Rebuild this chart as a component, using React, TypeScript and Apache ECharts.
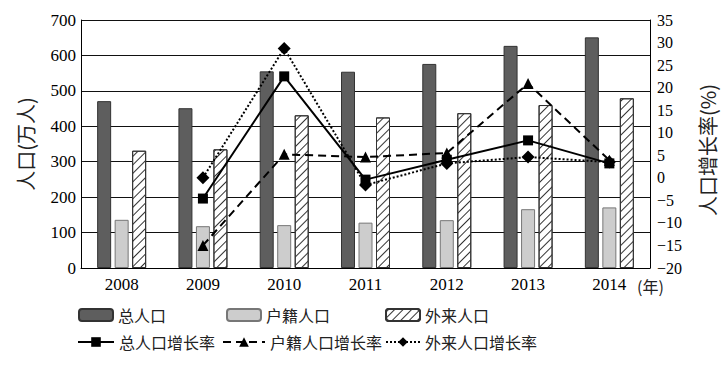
import React, { useEffect, useRef } from "react";
import * as echarts from "echarts";

const years = ["2008", "2009", "2010", "2011", "2012", "2013", "2014"];
const totalPop = [471, 451, 555, 554, 576, 627, 651];
const huji = [136, 118, 121, 128, 135, 166, 171];
const waiLai = [331, 335, 431, 425, 437, 460, 479];
const rateYears = ["2009", "2010", "2011", "2012", "2013", "2014"];
const totalRate = [-4.6, 22.5, -0.4, 4.0, 8.3, 3.2];
const hujiRate = [-15.0, 5.2, 4.6, 5.5, 20.9, 3.9];
const waiLaiRate = [0.0, 28.7, -1.6, 3.2, 4.6, 3.5];

const serif = "'Liberation Serif', 'DejaVu Serif', serif";
const cjk = "'Noto Sans CJK SC', sans-serif";

export default function App() {
  const ref = useRef<HTMLDivElement>(null);
  useEffect(() => {
    const chart = echarts.init(ref.current!, null, { renderer: "svg" });
    const rateData = (arr: number[]) =>
      years.map((y) => {
        const i = rateYears.indexOf(y);
        return i >= 0 ? arr[i] : null;
      });
    const legendText = { fontFamily: cjk, fontSize: 16, color: "#222" };
    const hatch = {
      symbol: "rect",
      symbolSize: 1,
      dashArrayX: [1, 0],
      dashArrayY: [1, 4.5],
      rotation: -Math.PI / 4,
      color: "#333",
      backgroundColor: "#fff",
    };
    chart.setOption({
      animation: false,
      backgroundColor: "#fff",
      grid: { left: 81, right: 73, top: 20, bottom: 100 },
      legend: [
        { data: ["总人口"], left: 73, top: 302, itemWidth: 34, itemHeight: 12, textStyle: legendText },
        { data: ["户籍人口"], left: 221, top: 302, itemWidth: 34, itemHeight: 12, textStyle: legendText },
        { data: ["外来人口"], left: 380, top: 302, itemWidth: 34, itemHeight: 12, textStyle: legendText },
        { data: ["总人口增长率"], left: 72, top: 329, itemWidth: 36, itemHeight: 12, textStyle: legendText },
        { data: ["户籍人口增长率"], left: 217, top: 329, itemWidth: 42, itemHeight: 12, textStyle: legendText },
        { data: ["外来人口增长率"], left: 380, top: 329, itemWidth: 34, itemHeight: 12, textStyle: legendText },
      ],
      xAxis: {
        type: "category",
        data: years,
        axisLine: { lineStyle: { color: "#000", width: 1 } },
        axisTick: { show: false },
        axisLabel: { fontFamily: serif, fontSize: 17, color: "#000", margin: 8 },
      },
      yAxis: [
        {
          type: "value",
          min: 0,
          max: 700,
          interval: 100,
          name: "人口(万人)",
          nameLocation: "middle",
          nameGap: 46,
          nameRotate: 90,
          nameTextStyle: { fontFamily: cjk, fontSize: 20, color: "#222" },
          axisLine: { show: true, lineStyle: { color: "#000" } },
          axisTick: { show: false },
          axisLabel: { fontFamily: serif, fontSize: 17, color: "#000", margin: 5 },
          splitLine: { show: true, lineStyle: { color: "#111", width: 1 } },
        },
        {
          type: "value",
          min: -20,
          max: 35,
          interval: 5,
          axisLine: { show: true, lineStyle: { color: "#000" } },
          axisTick: { show: false },
          axisLabel: {
            fontFamily: serif,
            fontSize: 16,
            color: "#000",
            margin: 7,
            formatter: (v: number) => String(v).replace("-", "−"),
          },
          splitLine: { show: false },
        },
      ],
      graphic: [
        {
          type: "text",
          left: 637,
          top: 278,
          style: { text: "(年)", font: `16px ${cjk}`, fill: "#222" },
        },
        {
          type: "text",
          x: 707,
          y: 150,
          rotation: Math.PI / 2,
          style: {
            text: "人口增长率(%)",
            font: `20px ${cjk}`,
            fill: "#222",
            align: "center",
            verticalAlign: "middle",
          },
        },
      ],
      series: [
        {
          name: "总人口",
          type: "bar",
          data: totalPop,
          barWidth: 14,
          barGap: "25%",
          itemStyle: { color: "#5e5e5e", borderColor: "#333", borderWidth: 1 },
        },
        {
          name: "户籍人口",
          type: "bar",
          data: huji,
          barWidth: 14,
          barGap: "25%",
          itemStyle: { color: "#cdcdcd", borderColor: "#777", borderWidth: 1 },
        },
        {
          name: "外来人口",
          type: "bar",
          data: waiLai,
          barWidth: 14,
          barGap: "25%",
          itemStyle: { color: "#fff", borderColor: "#333", borderWidth: 1, decal: hatch },
        },
        {
          name: "总人口增长率",
          type: "line",
          yAxisIndex: 1,
          data: rateData(totalRate),
          symbol: "rect",
          symbolSize: 10,
          lineStyle: { color: "#000", width: 2 },
          itemStyle: { color: "#000" },
          z: 5,
        },
        {
          name: "户籍人口增长率",
          type: "line",
          yAxisIndex: 1,
          data: rateData(hujiRate),
          symbol: "triangle",
          symbolSize: 11,
          lineStyle: { color: "#000", width: 2, type: [8, 5] },
          itemStyle: { color: "#000" },
          z: 5,
        },
        {
          name: "外来人口增长率",
          type: "line",
          yAxisIndex: 1,
          data: rateData(waiLaiRate),
          symbol: "diamond",
          symbolSize: 13,
          lineStyle: { color: "#000", width: 2, type: "dotted" },
          itemStyle: { color: "#000" },
          z: 5,
        },
      ],
    });
    return () => chart.dispose();
  }, []);
  return (
    <div
      ref={ref}
      style={{ position: "fixed", left: 0, top: 0, width: 723, height: 368 }}
    />
  );
}
